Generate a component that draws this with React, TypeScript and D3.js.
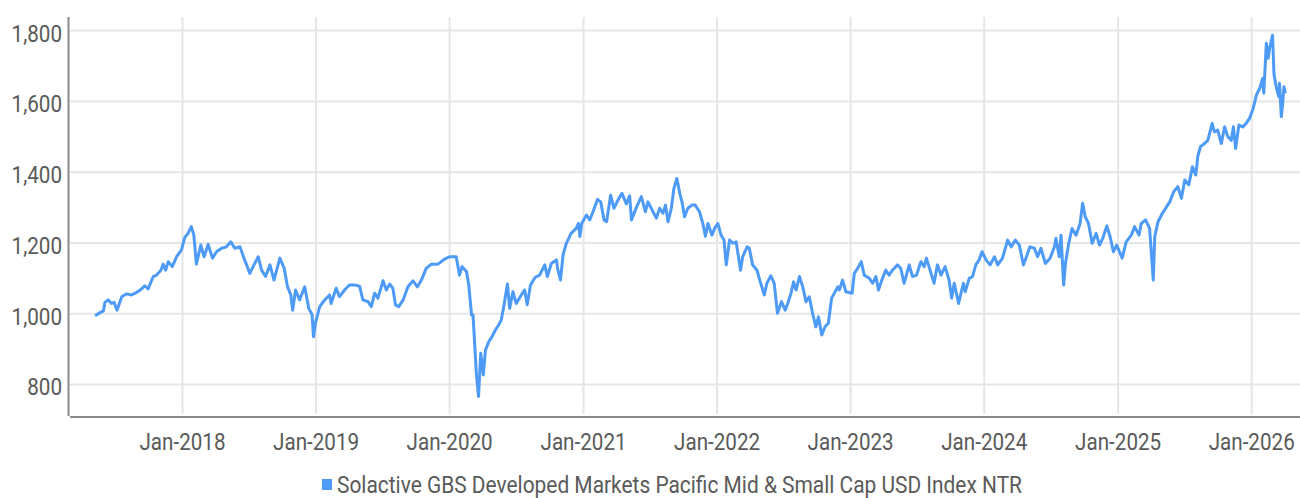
import React from "react";
import * as d3 from "d3";

type P = [string, number];

const seriesName = "Solactive GBS Developed Markets Pacific Mid & Small Cap USD Index NTR";

const y2017: P[] = [["2017-05-07",994],["2017-05-21",1003],["2017-05-30",1008],["2017-06-03",1032],["2017-06-12",1039],["2017-06-21",1029],["2017-06-28",1032],["2017-07-06",1010],["2017-07-19",1048],["2017-08-01",1056],["2017-08-15",1053],["2017-08-28",1060],["2017-09-11",1070],["2017-09-20",1079],["2017-09-29",1070],["2017-10-13",1105],["2017-10-22",1109],["2017-11-03",1123],["2017-11-09",1140],["2017-11-16",1123],["2017-11-23",1147],["2017-12-04",1133],["2017-12-16",1161],["2017-12-29",1180]];

const y2018: P[] = [["2018-01-07",1215],["2018-01-16",1227],["2018-01-25",1246],["2018-02-01",1222],["2018-02-08",1140],["2018-02-20",1194],["2018-03-01",1161],["2018-03-12",1196],["2018-03-24",1157],["2018-04-04",1175],["2018-04-18",1185],["2018-05-01",1189],["2018-05-13",1203],["2018-05-24",1185],["2018-06-07",1189],["2018-06-18",1157],["2018-07-04",1114],["2018-07-13",1133],["2018-07-27",1161],["2018-08-05",1123],["2018-08-16",1105],["2018-08-28",1138],["2018-09-08",1095],["2018-09-24",1157],["2018-10-06",1128],["2018-10-15",1076],["2018-10-24",1053],["2018-10-29",1010],["2018-11-06",1067],["2018-11-17",1039],["2018-12-01",1076],["2018-12-12",1015],["2018-12-21",998],["2018-12-25",935],["2018-12-31",977]];

const y2019: P[] = [["2019-01-11",1020],["2019-01-24",1038],["2019-02-07",1053],["2019-02-11",1029],["2019-02-25",1072],["2019-03-06",1048],["2019-03-20",1067],["2019-04-02",1081],["2019-04-16",1081],["2019-04-30",1078],["2019-05-09",1039],["2019-05-23",1034],["2019-06-01",1020],["2019-06-10",1058],["2019-06-19",1044],["2019-07-03",1093],["2019-07-12",1067],["2019-07-21",1084],["2019-07-30",1072],["2019-08-06",1025],["2019-08-15",1020],["2019-08-27",1039],["2019-09-09",1076],["2019-09-23",1093],["2019-10-05",1076],["2019-10-16",1095],["2019-10-29",1128],["2019-11-12",1140],["2019-11-30",1140],["2019-12-18",1154]];

const y2020: P[] = [["2020-01-01",1161],["2020-01-19",1161],["2020-01-28",1109],["2020-02-04",1133],["2020-02-16",1119],["2020-02-22",1084],["2020-03-01",996],["2020-03-05",996],["2020-03-14",832],["2020-03-20",766],["2020-03-26",888],["2020-04-02",827],["2020-04-08",897],["2020-04-17",921],["2020-04-26",935],["2020-05-05",954],["2020-05-14",968],["2020-05-21",982],["2020-05-28",1020],["2020-06-07",1084],["2020-06-13",1015],["2020-06-22",1062],["2020-07-01",1029],["2020-07-15",1053],["2020-07-24",1067],["2020-07-31",1025],["2020-08-09",1081],["2020-08-22",1103],["2020-09-03",1109],["2020-09-17",1138],["2020-09-24",1105],["2020-10-05",1142],["2020-10-19",1152],["2020-10-23",1123],["2020-10-30",1095],["2020-11-06",1166],["2020-11-15",1199],["2020-11-28",1227],["2020-12-07",1236],["2020-12-12",1241],["2020-12-18",1255],["2020-12-22",1218],["2020-12-27",1255]];

const y2021: P[] = [["2021-01-09",1279],["2021-01-18",1265],["2021-01-27",1288],["2021-02-08",1323],["2021-02-17",1316],["2021-02-26",1265],["2021-03-05",1260],["2021-03-16",1335],["2021-03-25",1298],["2021-04-05",1321],["2021-04-16",1340],["2021-04-28",1310],["2021-05-07",1333],["2021-05-12",1265],["2021-05-26",1302],["2021-06-08",1331],["2021-06-19",1288],["2021-06-26",1316],["2021-07-10",1288],["2021-07-19",1270],["2021-07-28",1298],["2021-08-06",1284],["2021-08-13",1307],["2021-08-20",1260],["2021-08-29",1298],["2021-09-05",1354],["2021-09-13",1382],["2021-09-21",1340],["2021-09-27",1316],["2021-10-04",1274],["2021-10-13",1298],["2021-10-24",1307],["2021-11-02",1307],["2021-11-14",1288],["2021-11-23",1255],["2021-11-30",1219],["2021-12-07",1255],["2021-12-18",1222],["2021-12-25",1241]];

const y2022: P[] = [["2022-01-03",1255],["2022-01-12",1222],["2022-01-20",1208],["2022-01-26",1138],["2022-02-04",1208],["2022-02-13",1199],["2022-02-22",1203],["2022-03-06",1123],["2022-03-12",1161],["2022-03-24",1189],["2022-03-30",1185],["2022-04-08",1138],["2022-04-20",1123],["2022-04-29",1090],["2022-05-10",1053],["2022-05-17",1086],["2022-05-28",1107],["2022-06-06",1086],["2022-06-15",1001],["2022-06-26",1034],["2022-07-06",1010],["2022-07-13",1029],["2022-07-22",1058],["2022-07-29",1090],["2022-08-05",1067],["2022-08-14",1105],["2022-08-23",1076],["2022-09-01",1034],["2022-09-10",1048],["2022-09-19",1001],["2022-09-28",963],["2022-10-05",991],["2022-10-14",940],["2022-10-23",963],["2022-11-01",973],["2022-11-10",1044],["2022-11-27",1076],["2022-12-01",1067],["2022-12-10",1095],["2022-12-19",1062]];

const y2023: P[] = [["2023-01-05",1058],["2023-01-11",1114],["2023-01-20",1128],["2023-01-30",1147],["2023-02-07",1109],["2023-02-21",1100],["2023-03-02",1086],["2023-03-11",1105],["2023-03-18",1067],["2023-03-29",1100],["2023-04-07",1123],["2023-04-16",1109],["2023-04-25",1123],["2023-05-09",1138],["2023-05-18",1128],["2023-05-27",1086],["2023-06-10",1138],["2023-06-19",1105],["2023-06-30",1109],["2023-07-12",1147],["2023-07-21",1133],["2023-07-27",1157],["2023-08-06",1123],["2023-08-17",1086],["2023-08-26",1138],["2023-09-05",1109],["2023-09-16",1133],["2023-09-27",1095],["2023-10-04",1044],["2023-10-11",1086],["2023-10-23",1029],["2023-11-05",1086],["2023-11-10",1062],["2023-11-21",1100],["2023-11-30",1105],["2023-12-09",1138],["2023-12-18",1152],["2023-12-26",1175]];

const y2024: P[] = [["2024-01-06",1152],["2024-01-17",1138],["2024-01-29",1161],["2024-02-07",1138],["2024-02-20",1157],["2024-03-05",1208],["2024-03-15",1189],["2024-03-26",1208],["2024-04-06",1194],["2024-04-17",1138],["2024-04-24",1157],["2024-05-05",1189],["2024-05-17",1185],["2024-05-26",1161],["2024-06-04",1185],["2024-06-16",1142],["2024-06-29",1157],["2024-07-11",1189],["2024-07-15",1213],["2024-07-24",1161],["2024-07-29",1222],["2024-08-05",1081],["2024-08-10",1142],["2024-08-19",1199],["2024-08-28",1241],["2024-09-08",1222],["2024-09-19",1255],["2024-09-26",1312],["2024-10-03",1274],["2024-10-12",1255],["2024-10-22",1199],["2024-11-02",1227],["2024-11-11",1194],["2024-11-20",1213],["2024-12-01",1248],["2024-12-10",1218],["2024-12-19",1175],["2024-12-28",1194]];

const y2025: P[] = [["2025-01-12",1157],["2025-01-23",1203],["2025-02-06",1222],["2025-02-15",1246],["2025-02-27",1222],["2025-03-05",1255],["2025-03-17",1265],["2025-03-28",1241],["2025-04-07",1095],["2025-04-11",1218],["2025-04-20",1260],["2025-05-02",1284],["2025-05-11",1298],["2025-05-22",1316],["2025-06-02",1345],["2025-06-13",1359],["2025-06-23",1326],["2025-07-02",1378],["2025-07-13",1364],["2025-07-23",1415],["2025-08-01",1392],["2025-08-07",1446],["2025-08-14",1472],["2025-08-25",1481],["2025-09-03",1490],["2025-09-15",1538],["2025-09-21",1514],["2025-09-30",1519],["2025-10-10",1481],["2025-10-19",1528],["2025-10-28",1500],["2025-11-06",1490],["2025-11-12",1528],["2025-11-18",1467],["2025-11-27",1533],["2025-12-08",1528],["2025-12-17",1538],["2025-12-26",1552]];

const y2026: P[] = [["2026-01-05",1580],["2026-01-14",1618],["2026-01-23",1637],["2026-01-31",1665],["2026-02-03",1623],["2026-02-10",1764],["2026-02-15",1722],["2026-02-19",1750],["2026-02-27",1787],["2026-03-03",1675],["2026-03-09",1641],["2026-03-16",1613],["2026-03-18",1651],["2026-03-23",1557],["2026-03-27",1599],["2026-03-30",1641],["2026-04-03",1623]];

const yTicks = [800, 1000, 1200, 1400, 1600, 1800];
const xTicks = ["2018-01-01","2019-01-01","2020-01-01","2021-01-01","2022-01-01","2023-01-01","2024-01-01","2025-01-01","2026-01-01"];

const W = 1300, H = 498;
const LEFT = 69, RIGHT = 1300, TOP = 17, BOTTOM = 415;
const LINE_COLOR = "#4d9bf6";
const TEXT_COLOR = "#5a5a5a";
const FONT = "Roboto, 'Noto Sans', sans-serif";

export default function App() {
  const parse = d3.timeParse("%Y-%m-%d");
  const data = [...y2017, ...y2018, ...y2019, ...y2020, ...y2021, ...y2022, ...y2023, ...y2024, ...y2025, ...y2026]
    .map(([d, v]) => ({ date: parse(d) as Date, value: v }));

  const x = d3.scaleTime()
    .domain([parse("2018-01-01") as Date, parse("2026-01-01") as Date])
    .range([182.5, 1251.7]);
  const y = d3.scaleLinear().domain([1000, 1800]).range([313.7, 30.6]);

  const line = d3.line<{ date: Date; value: number }>()
    .x(d => x(d.date))
    .y(d => y(d.value));

  const fmtX = d3.timeFormat("%b-%Y");
  const fmtY = d3.format(",");

  return (
    <svg width={W} height={H} style={{ position: "absolute", left: 0, top: 0, background: "#fff" }}>
      <rect x={0} y={0} width={W} height={H} fill="#fff" />
      {yTicks.map(t => (
        <line key={"gy" + t} x1={LEFT} x2={RIGHT} y1={y(t)} y2={y(t)} stroke="#e6e6e6" strokeWidth={2} />
      ))}
      {xTicks.map(t => {
        const xv = x(parse(t) as Date);
        return <line key={"gx" + t} x1={xv} x2={xv} y1={TOP} y2={BOTTOM - 1} stroke="#e6e6e6" strokeWidth={2} />;
      })}
      <line x1={LEFT - 0.5} x2={LEFT - 0.5} y1={TOP} y2={BOTTOM + 1} stroke="#8a8a8a" strokeWidth={2} />
      <line x1={LEFT + 1} x2={RIGHT} y1={BOTTOM + 2} y2={BOTTOM + 2} stroke="#8a8a8a" strokeWidth={2} />
      {yTicks.map(t => (
        <text key={"ty" + t} transform={`translate(62,${y(t) + 11}) scale(0.86,1)`} textAnchor="end"
          fontFamily={FONT} fontSize={24} fill={TEXT_COLOR}>{fmtY(t)}</text>
      ))}
      {xTicks.map(t => {
        const d = parse(t) as Date;
        return (
          <text key={"tx" + t} transform={`translate(${x(d)},450) scale(0.86,1)`} textAnchor="middle"
            fontFamily={FONT} fontSize={24} fill={TEXT_COLOR}>{fmtX(d)}</text>
        );
      })}
      <path d={line(data) || ""} fill="none" stroke={LINE_COLOR} strokeWidth={3} strokeLinejoin="round" />
      <rect x={322} y={479} width={10} height={11} fill={LINE_COLOR} />
      <text x={337} y={493} fontFamily={FONT} fontSize={23} fill={TEXT_COLOR}
        textLength={685} lengthAdjust="spacingAndGlyphs">{seriesName}</text>
    </svg>
  );
}
